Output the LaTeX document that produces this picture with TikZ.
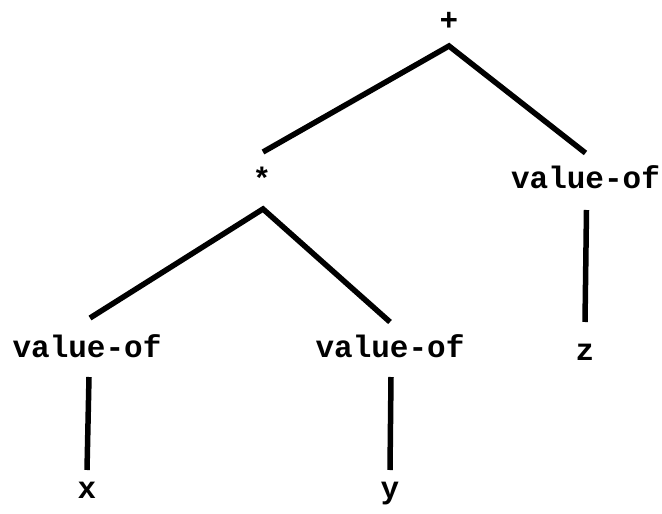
\documentclass[tikz,border=0pt]{standalone}
\usepackage{fontspec}
\setmonofont{Liberation Mono}
\usetikzlibrary{calc}
\tikzset{
  lbl/.style={font=\fontsize{31}{36}\selectfont\ttfamily\bfseries, inner sep=0pt, anchor=base},
  sym/.style={font=\fontsize{31}{36}\selectfont\ttfamily\bfseries, inner sep=0pt, anchor=center},
  edge/.style={line width=5.5pt, black}
}
\begin{document}
\begin{tikzpicture}[x=1pt,y=-1pt]
\useasboundingbox (0,0) rectangle (662,514);
\node[sym] (plus) at (449,21) {+};
\node[sym] (star) at (262,178) {*};
\node[lbl] (vr) at (585.5,188) {value-of};
\node[lbl] (vl) at (87,357) {value-of};
\node[lbl] (vm) at (390,357) {value-of};
\node[lbl] (z) at (585,360) {z};
\node[lbl] (x) at (87,498) {x};
\node[lbl] (y) at (390,498) {y};
\draw[edge] ($(star)+(1,-26)$) -- ($(plus)+(0,25)$) -- ($(vr.base)+(0,-35)$);
\draw[edge] ($(vl.base)+(3,-39)$) -- ($(star)+(1,31)$) -- ($(vm.base)+(0,-35)$);
\draw[edge] ($(vr.base)+(1,22)$) -- ($(z.base)+(0,-38)$);
\draw[edge] ($(vl.base)+(2,20)$) -- ($(x.base)+(0,-28)$);
\draw[edge] ($(vm.base)+(1,20)$) -- ($(y.base)+(0,-28)$);
\end{tikzpicture}
\end{document}
